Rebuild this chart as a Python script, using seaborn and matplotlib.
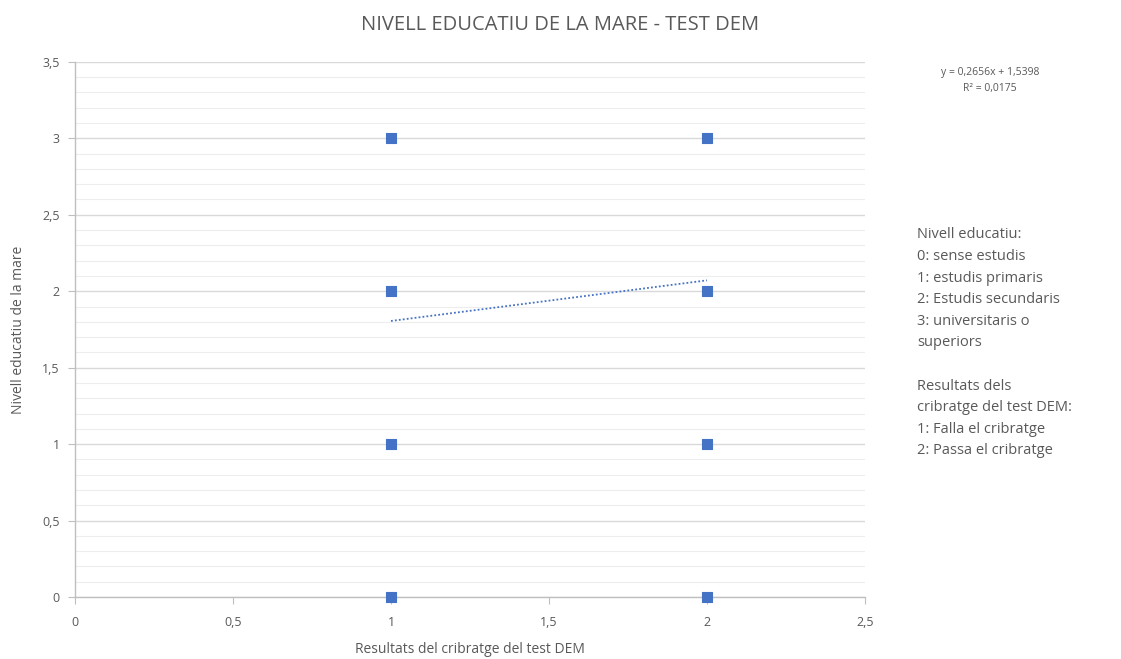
import numpy as np
import pandas as pd
import matplotlib
matplotlib.use("Agg")
import matplotlib.pyplot as plt
import seaborn as sns

# Dades llegides del gràfic
resultat_dem = [1, 1, 1, 1, 2, 2, 2, 2]
nivell_mare = [0, 1, 2, 3, 0, 1, 2, 3]
pendent = 0.2656
intercept = 1.5398
r2 = 0.0175
x_ticks = [0, 0.5, 1, 1.5, 2, 2.5]
y_ticks = [0, 0.5, 1, 1.5, 2, 2.5, 3, 3.5]

sns.set_style("white")
plt.rcParams['font.family'] = ['Open Sans', 'DejaVu Sans']

df = pd.DataFrame({'DEM': resultat_dem, 'Nivell': nivell_mare})
x_tend = np.array([min(resultat_dem), max(resultat_dem)])
df_tend = pd.DataFrame({'DEM': x_tend, 'Nivell': pendent * x_tend + intercept})

fig = plt.figure(figsize=(11.21, 6.59), dpi=100)
ax = fig.add_axes([0.0669, 0.0941, 0.7047, 0.812])

blau = '#4472C4'
gris = '#595959'

# graella: principal cada 0,5 i secundària cada 0,1
for v in np.arange(0, 3.51, 0.1):
    principal = abs(v / 0.5 - round(v / 0.5)) < 1e-6
    ax.axhline(v, color='#D9D9D9' if principal else '#EDEDED',
               lw=1.0 if principal else 0.8, zorder=0)

sns.scatterplot(data=df, x='DEM', y='Nivell', ax=ax, marker='s', s=50,
                color=blau, edgecolor=blau, linewidth=0.8, zorder=3, clip_on=False)
sns.lineplot(data=df_tend, x='DEM', y='Nivell', ax=ax, color=blau,
             linestyle=(0, (1, 1.2)), lw=1.3, zorder=2)

ax.set_xlim(0, 2.5)
ax.set_ylim(0, 3.5)
ax.set_xticks(x_ticks)
ax.set_yticks(y_ticks)
fmt = lambda v: f'{v:g}'.replace('.', ',')
ax.set_xticklabels([fmt(v) for v in x_ticks])
ax.set_yticklabels([fmt(v) for v in y_ticks])
ax.tick_params(axis='both', bottom=True, left=True, labelsize=9, labelcolor=gris,
               color='#BFBFBF', length=5, width=0.8, direction='out')
ax.tick_params(axis='x', pad=9)
ax.tick_params(axis='y', pad=6)

for s in ['top', 'right']:
    ax.spines[s].set_visible(False)
for s in ['left', 'bottom']:
    ax.spines[s].set_color('#BFBFBF')
    ax.spines[s].set_linewidth(1.0)
ax.spines['bottom'].set_zorder(1)

ax.set_xlabel('Resultats del cribratge del test DEM', fontsize=10, color=gris, labelpad=9)
ax.set_ylabel('Nivell educatiu de la mare', fontsize=10, color=gris, labelpad=12)

fig.text(0.5, 0.962, 'NIVELL EDUCATIU DE LA MARE - TEST DEM', ha='center', va='center',
         fontsize=14.5, color=gris)

eq = f'y = {pendent:.4f}x + {intercept:.4f}'.replace('.', ',')
fig.text(0.883, 0.89, eq, ha='center', va='center', fontsize=7.5, color=gris)
fig.text(0.883, 0.866, f'R² = {r2:.4f}'.replace('.', ','), ha='center', va='center',
         fontsize=7.5, color=gris)

nota = ('Nivell educatiu:\n0: sense estudis\n1: estudis primaris\n2: Estudis secundaris\n'
        '3: universitaris o\nsuperiors\n\nResultats dels\ncribratge del test DEM:\n'
        '1: Falla el cribratge\n2: Passa el cribratge')
fig.text(0.818, 0.655, nota, ha='left', va='top', fontsize=10.5, color=gris, linespacing=1.6)

fig.savefig('out.png', dpi=100)
